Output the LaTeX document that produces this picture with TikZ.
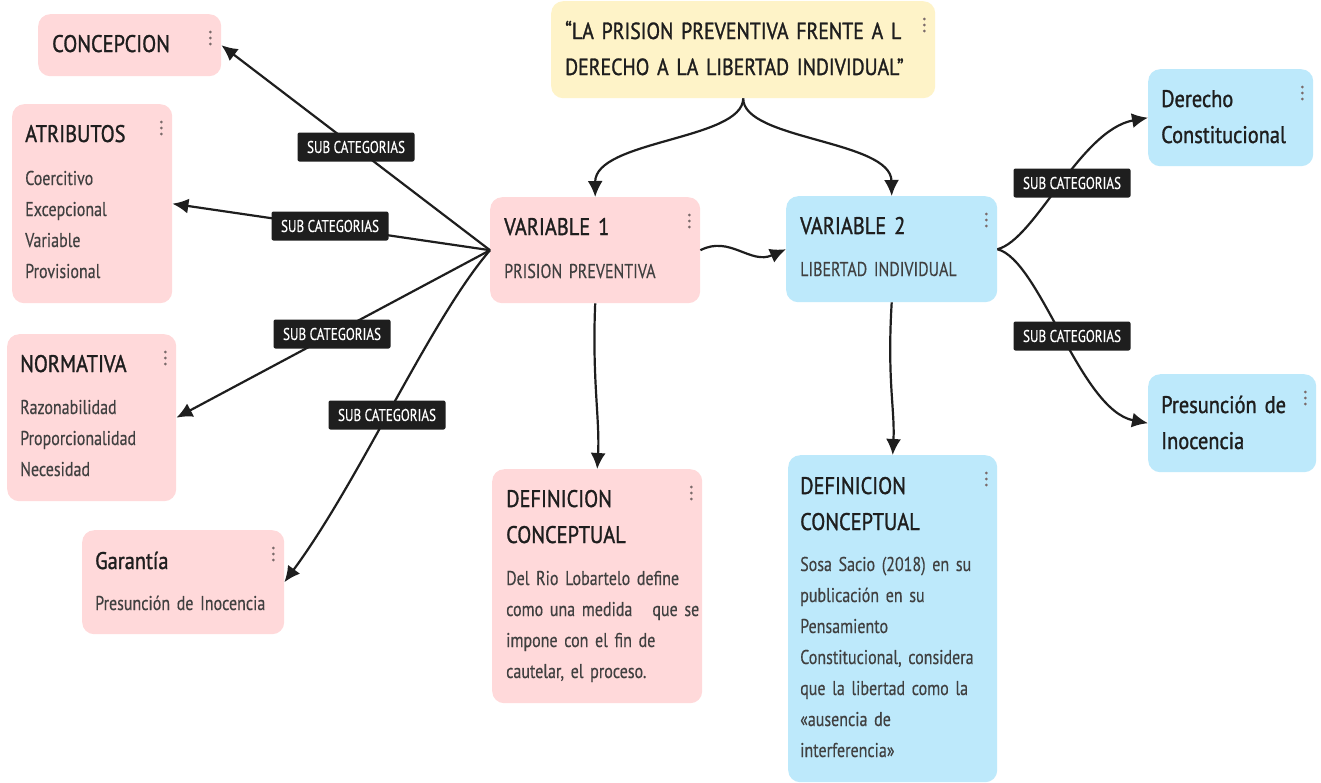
\documentclass[tikz,border=0pt]{standalone}
\usepackage{fontspec}
\setmainfont{PT Sans}
\newfontfamily\ttlfont[FakeStretch=0.85,FakeBold=1.2]{PT Sans}
\newfontfamily\bodyfont[FakeStretch=0.8,FakeBold=0.3]{PT Sans}
\newfontfamily\labfont[FakeStretch=0.77,FakeBold=0.5]{PT Sans}
\usetikzlibrary{arrows.meta}
\definecolor{pinkbox}{HTML}{FFD9DA}
\definecolor{bluebox}{HTML}{BDE9FB}
\definecolor{yelbox}{HTML}{FEF3C8}
\definecolor{ink}{HTML}{1E1E1E}
\definecolor{bodyink}{HTML}{404040}
\definecolor{dotc}{HTML}{7A6A6A}
\newcommand\myttlstyle{\ttlfont\fontsize{24}{36}\selectfont\hyphenpenalty=10000\relax}
\newcommand\mymainttlstyle{\ttlfont\fontsize{23.3}{36}\selectfont\hyphenpenalty=10000\relax}
\newcommand\mybdystyle{\bodyfont\fontsize{20}{31}\selectfont\hyphenpenalty=10000\relax}
\newcommand\mylabstyle{\labfont\fontsize{17}{17}\selectfont}
\newcommand\kebab[1]{\foreach \dy in {18,24,30}{\fill[dotc] ([xshift=-11pt,yshift=-\dy pt]#1.north east) circle (1.5pt);}}
\tikzset{
  box/.style={anchor=north west, rounded corners=12pt, inner sep=0pt, draw=none},
  pinkb/.style={box, fill=pinkbox},
  blueb/.style={box, fill=bluebox},
  yelb/.style={box, fill=yelbox},
  ttl/.style={anchor=base west, inner sep=0pt, text width=420pt, align=left, font=\myttlstyle, text=ink},
  bdy/.style={anchor=base west, inner sep=0pt, text width=260pt, align=left, font=\mybdystyle, text=bodyink},
  lab/.style={fill=ink, text=white, rounded corners=2pt, minimum width=117pt, minimum height=29pt, inner sep=0pt, font=\mylabstyle},
  conn/.style={draw=ink, line width=2.2pt, -{Latex[length=16pt,width=15pt]}},
}
\begin{document}
\begin{tikzpicture}[x=1pt,y=-1pt]
\useasboundingbox (0,0) rectangle (1321,782);
\fill[white] (0,0) rectangle (1321,782);
% boxes
\node[pinkb, minimum width=183pt, minimum height=62pt] (conc) at (38,14) {};
\node[pinkb, minimum width=160pt, minimum height=199pt] (atr) at (12,104) {};
\node[pinkb, minimum width=169pt, minimum height=167pt] (norm) at (7,334) {};
\node[pinkb, minimum width=202pt, minimum height=104pt] (gar) at (82,530) {};
\node[yelb, minimum width=384pt, minimum height=97pt] (tit) at (551,1) {};
\node[pinkb, minimum width=210pt, minimum height=106pt] (v1) at (490,197) {};
\node[blueb, minimum width=211pt, minimum height=106pt] (v2) at (786,196) {};
\node[pinkb, minimum width=210pt, minimum height=234pt] (d1) at (492,469) {};
\node[blueb, minimum width=209pt, minimum height=327pt] (d2) at (788,455) {};
\node[blueb, minimum width=165pt, minimum height=97pt] (der) at (1148,69) {};
\node[blueb, minimum width=168pt, minimum height=98pt] (pre) at (1148,374) {};
\kebab{conc}\kebab{atr}\kebab{norm}\kebab{gar}\kebab{tit}\kebab{v1}\kebab{v2}\kebab{d1}\kebab{d2}\kebab{der}\kebab{pre}
% texts
\node[ttl] (conc-t) at (52,52) {CONCEPCION};
\node[ttl] (atr-t) at (25,142) {ATRIBUTOS};
\node[bdy] (atr-b) at (25,185) {Coercitivo\\Excepcional\\Variable\\Provisional};
\node[ttl] (norm-t) at (20,372) {NORMATIVA};
\node[bdy] (norm-b) at (20,414) {Razonabilidad\\Proporcionalidad\\Necesidad};
\node[ttl] (gar-t) at (95,569) {Garantía};
\node[bdy] (gar-b) at (95,610) {Presunción de Inocencia};
\node[ttl, font=\mymainttlstyle] (tit-t) at (565,39) {“LA PRISION PREVENTIVA FRENTE A L\\DERECHO A LA LIBERTAD INDIVIDUAL”};
\node[ttl] (v1-t) at (504,235) {VARIABLE 1};
\node[bdy] (v1-b) at (504,278) {PRISION PREVENTIVA};
\node[ttl] (v2-t) at (800,234) {VARIABLE 2};
\node[bdy] (v2-b) at (800,276) {LIBERTAD INDIVIDUAL};
\node[ttl] (d1-t) at (506,507) {DEFINICION\\CONCEPTUAL};
\node[bdy] (d1-b) at (506,585) {Del Rio Lobartelo define\\como una medida\ \ \ que se\\impone con el fin de\\cautelar, el proceso.};
\node[ttl] (d2-t) at (800,494) {DEFINICION\\CONCEPTUAL};
\node[bdy] (d2-b) at (800,571) {Sosa Sacio (2018) en su\\publicación en su\\Pensamiento\\Constitucional, considera\\que la libertad como la\\«ausencia de\\interferencia»};
\node[ttl] (der-t) at (1161,107) {Derecho\\Constitucional};
\node[ttl] (pre-t) at (1161,413) {Presunción de\\Inocencia};
% connectors
\draw[conn] (v1.west) -- (conc.east);
\draw[conn] (v1.west) -- (atr.east);
\draw[conn] (v1.west) -- (norm.east);
\draw[conn] (v1.west) .. controls (430,320) and (360,480) .. (gar.east);
\draw[conn] (tit.south) .. controls (743,140) and (595,140) .. (v1.north);
\draw[conn] (tit.south) .. controls (743,140) and (891,140) .. (v2.north);
\draw[conn] (v1.east) .. controls (730,235) and (750,265) .. (v2.west);
\draw[conn] (v1.south) .. controls (592,380) and (600,420) .. (d1.north);
\draw[conn] (v2.south) .. controls (887,380) and (895,410) .. (d2.north);
\draw[conn] (v2.east) .. controls (1035,240) and (1080,130) .. (der.west);
\draw[conn] (v2.east) .. controls (1040,260) and (1080,410) .. (pre.west);
% labels
\node[lab] (l1) at (356,147) {SUB CATEGORIAS};
\node[lab] (l2) at (330,226) {SUB CATEGORIAS};
\node[lab] (l3) at (332,334) {SUB CATEGORIAS};
\node[lab] (l4) at (387,415) {SUB CATEGORIAS};
\node[lab] (l5) at (1072,183) {SUB CATEGORIAS};
\node[lab] (l6) at (1072,336) {SUB CATEGORIAS};
\end{tikzpicture}
\end{document}
